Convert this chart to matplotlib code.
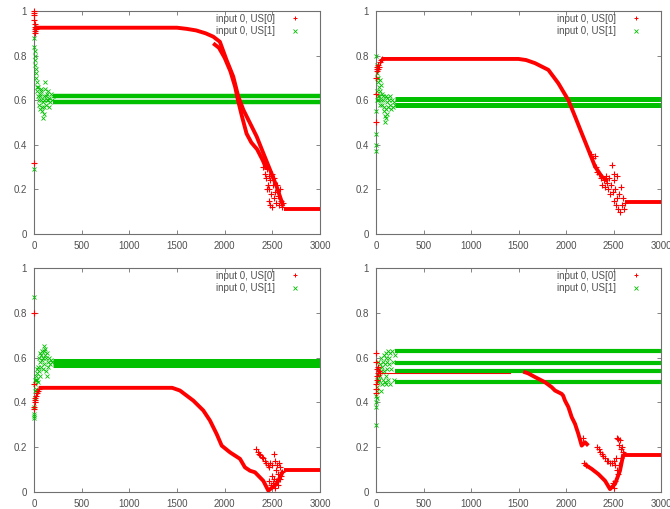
import matplotlib
matplotlib.use("Agg")
import matplotlib.pyplot as plt
from matplotlib.lines import Line2D

plt.rcParams['font.family'] = ['Liberation Sans', 'DejaVu Sans']

RED = '#ff0000'
GREEN = '#00c000'
TEXT = '#505050'
FRAME = '#707070'

x_ticks = [0, 500, 1000, 1500, 2000, 2500, 3000]
y_ticks = [0, 0.2, 0.4, 0.6, 0.8, 1]
y_ticklabels = ['0', '0.2', '0.4', '0.6', '0.8', '1']
legend_labels = ['input 0, US[0]', 'input 0, US[1]']

# ---------------- panel 1 (top left) ----------------
p1_red_early_x = [0, 0, 2, 4, 5, 6, 8, 10, 12, 15, 18, 20]
p1_red_early_y = [0.32, 1.0, 0.98, 0.96, 0.99, 0.94, 0.92, 0.90, 0.91, 0.93, 0.92, 0.925]
p1_red_x = [20, 1500, 1600, 1700, 1800, 1880, 1950, 2020, 2090, 2143, 2196, 2266, 2336, 2405, 2476, 2545, 2615]
p1_red_y = [0.925, 0.925, 0.92, 0.913, 0.9, 0.885, 0.862, 0.78, 0.706, 0.616, 0.557, 0.497, 0.437, 0.363, 0.288, 0.213, 0.124]
p1_red_b_x = [1880, 1940, 2000, 2060, 2110, 2140, 2180, 2230, 2280, 2340, 2400, 2440]
p1_red_b_y = [0.855, 0.835, 0.79, 0.73, 0.66, 0.6, 0.53, 0.45, 0.41, 0.38, 0.33, 0.29]
p1_red_tail_x = [2620, 3000]
p1_red_tail_y = [0.11, 0.11]
p1_red_noise_x = [2400, 2420, 2430, 2440, 2450, 2460, 2470, 2480, 2490, 2500, 2510, 2515, 2520, 2530,
                  2540, 2550, 2560, 2570, 2580, 2590, 2600, 2610, 2480, 2500, 2440, 2460]
p1_red_noise_y = [0.30, 0.27, 0.25, 0.29, 0.22, 0.26, 0.20, 0.24, 0.18, 0.27, 0.22, 0.16, 0.25, 0.19,
                  0.14, 0.22, 0.17, 0.13, 0.20, 0.15, 0.12, 0.14, 0.13, 0.12, 0.20, 0.15]
p1_green_early_x = [0, 0, 5, 8, 10, 12, 15, 18, 20, 25, 28, 30, 35, 40, 45, 50, 55, 60, 65, 70, 75, 80,
                    85, 90, 95, 100, 105, 110, 115, 120, 130, 135, 140, 150, 155, 160, 170, 180, 190,
                    200, 60, 75, 110, 125, 145]
p1_green_early_y = [0.29, 0.88, 0.84, 0.82, 0.80, 0.76, 0.78, 0.74, 0.72, 0.70, 0.66, 0.68, 0.64, 0.62,
                    0.66, 0.60, 0.58, 0.56, 0.62, 0.64, 0.60, 0.57, 0.55, 0.52, 0.59, 0.62, 0.54, 0.60,
                    0.68, 0.65, 0.58, 0.63, 0.60, 0.64, 0.57, 0.61, 0.59, 0.63, 0.60, 0.62, 0.63, 0.65,
                    0.57, 0.62, 0.60]
p1_green_levels = [0.619, 0.590]

# ---------------- panel 2 (top right) ----------------
p2_red_early_x = [0, 0, 5, 8, 10, 15, 20, 25, 30, 40, 50, 60]
p2_red_early_y = [0.50, 0.63, 0.70, 0.74, 0.75, 0.73, 0.74, 0.76, 0.75, 0.77, 0.78, 0.785]
p2_red_x = [60, 1500, 1580, 1674, 1814, 1919, 2025, 2095, 2165, 2235, 2305, 2375, 2440]
p2_red_y = [0.785, 0.785, 0.78, 0.766, 0.736, 0.676, 0.60, 0.527, 0.452, 0.378, 0.303, 0.258, 0.236]
p2_red_tail_x = [2620, 3000]
p2_red_tail_y = [0.145, 0.145]
p2_red_noise_x = [2260, 2280, 2300, 2320, 2330, 2350, 2370, 2380, 2400, 2410, 2420, 2430, 2440, 2450,
                  2460, 2470, 2480, 2490, 2500, 2510, 2520, 2530, 2540, 2550, 2560, 2570, 2580, 2590,
                  2600, 2610, 2620, 2500, 2540]
p2_red_noise_y = [0.36, 0.34, 0.35, 0.30, 0.28, 0.27, 0.25, 0.22, 0.24, 0.21, 0.26, 0.23, 0.20, 0.25,
                  0.18, 0.22, 0.31, 0.19, 0.15, 0.24, 0.20, 0.13, 0.26, 0.11, 0.18, 0.10, 0.21, 0.13,
                  0.16, 0.11, 0.14, 0.27, 0.16]
p2_green_early_x = [0, 0, 0, 3, 5, 6, 8, 10, 12, 15, 18, 20, 25, 30, 35, 40, 45, 50, 55, 60, 65, 70,
                    75, 80, 85, 90, 95, 100, 105, 110, 115, 120, 130, 140, 150, 160, 170, 180, 190,
                    200, 25, 45, 120, 150]
p2_green_early_y = [0.37, 0.40, 0.45, 0.55, 0.80, 0.76, 0.60, 0.72, 0.64, 0.70, 0.62, 0.68, 0.70, 0.66,
                    0.62, 0.69, 0.64, 0.60, 0.67, 0.63, 0.58, 0.62, 0.60, 0.55, 0.57, 0.53, 0.50, 0.52,
                    0.56, 0.62, 0.59, 0.61, 0.57, 0.60, 0.58, 0.56, 0.60, 0.57, 0.59, 0.58, 0.60, 0.58,
                    0.54, 0.62]
p2_green_levels = [0.606, 0.580]

# ---------------- panel 3 (bottom left) ----------------
p3_red_early_x = [0, 0, 2, 5, 8, 10, 15, 20, 30, 40, 50]
p3_red_early_y = [0.80, 0.48, 0.38, 0.37, 0.40, 0.42, 0.41, 0.43, 0.44, 0.45, 0.46]
p3_red_x = [50, 1450, 1531, 1671, 1776, 1846, 1916, 1969, 2056, 2161, 2213, 2266, 2318, 2405, 2458,
            2545, 2615]
p3_red_y = [0.465, 0.465, 0.453, 0.408, 0.364, 0.319, 0.259, 0.207, 0.177, 0.148, 0.11, 0.095, 0.088,
            0.05, 0.006, 0.036, 0.095]
p3_red_tail_x = [2620, 3000]
p3_red_tail_y = [0.098, 0.098]
p3_red_noise_x = [2330, 2345, 2360, 2375, 2390, 2405, 2420, 2435, 2450, 2465, 2480, 2500, 2520, 2530,
                  2540, 2550, 2560, 2570, 2580, 2590, 2600, 2470, 2490, 2500, 2510, 2520, 2530, 2540,
                  2560, 2580]
p3_red_noise_y = [0.19, 0.18, 0.17, 0.165, 0.155, 0.15, 0.14, 0.13, 0.12, 0.11, 0.13, 0.12, 0.17, 0.14,
                  0.10, 0.12, 0.08, 0.13, 0.11, 0.07, 0.09, 0.05, 0.03, 0.07, 0.04, 0.06, 0.02, 0.05,
                  0.03, 0.06]
p3_green_early_x = [0, 0, 0, 3, 5, 8, 10, 12, 15, 20, 25, 30, 35, 40, 45, 50, 55, 60, 65, 70, 75, 80,
                    85, 90, 95, 100, 105, 110, 115, 120, 125, 130, 135, 140, 145, 150, 160, 170, 180,
                    190, 20, 30, 60]
p3_green_early_y = [0.87, 0.35, 0.33, 0.34, 0.38, 0.42, 0.45, 0.50, 0.48, 0.52, 0.50, 0.55, 0.53, 0.49,
                    0.56, 0.60, 0.54, 0.62, 0.58, 0.61, 0.56, 0.63, 0.59, 0.55, 0.60, 0.65, 0.63, 0.57,
                    0.61, 0.64, 0.54, 0.60, 0.62, 0.52, 0.58, 0.56, 0.60, 0.57, 0.59, 0.58, 0.46, 0.50,
                    0.52]
p3_green_levels = [0.577]

# ---------------- panel 4 (bottom right) ----------------
p4_red_early_x = [0, 0, 0, 3, 5, 8, 10, 15, 20, 25, 30, 40]
p4_red_early_y = [0.62, 0.58, 0.46, 0.44, 0.48, 0.50, 0.52, 0.55, 0.53, 0.56, 0.54, 0.53]
p4_red_thin_x = [40, 1410]
p4_red_thin_y = [0.531, 0.531]
p4_red_x = [1550, 1600, 1674, 1779, 1849, 1884, 1954, 1970, 1989, 2025, 2060, 2095, 2130, 2165, 2200,
            2235]
p4_red_y = [0.537, 0.53, 0.513, 0.49, 0.468, 0.453, 0.438, 0.43, 0.408, 0.379, 0.334, 0.304, 0.259,
            0.207, 0.222, 0.207]
p4_red_low_x = [2190, 2270, 2340, 2411, 2463, 2516, 2568, 2604]
p4_red_low_y = [0.125, 0.103, 0.08, 0.05, 0.013, 0.036, 0.095, 0.17]
p4_red_tail_x = [2620, 3000]
p4_red_tail_y = [0.163, 0.163]
p4_red_noise_x = [2180, 2190, 2210, 2330, 2345, 2360, 2375, 2390, 2410, 2430, 2446, 2465, 2480, 2500,
                  2520, 2540, 2551, 2560, 2570, 2580, 2590, 2600, 2610, 2530, 2550, 2520, 2500, 2490,
                  2540, 2560, 2580]
p4_red_noise_y = [0.24, 0.13, 0.12, 0.20, 0.19, 0.18, 0.17, 0.16, 0.15, 0.14, 0.14, 0.13, 0.13, 0.14,
                  0.12, 0.24, 0.237, 0.21, 0.23, 0.19, 0.20, 0.18, 0.17, 0.15, 0.08, 0.05, 0.02, 0.04,
                  0.10, 0.12, 0.15]
p4_green_early_x = [0, 0, 3, 5, 8, 10, 12, 15, 20, 25, 30, 35, 40, 45, 50, 55, 60, 65, 70, 75, 80, 85,
                    90, 95, 100, 105, 110, 115, 120, 125, 130, 135, 140, 145, 150, 160, 170, 180, 190,
                    200, 20, 50, 100]
p4_green_early_y = [0.30, 0.38, 0.40, 0.43, 0.45, 0.42, 0.50, 0.47, 0.52, 0.49, 0.55, 0.50, 0.57, 0.52,
                    0.54, 0.60, 0.48, 0.56, 0.58, 0.50, 0.61, 0.54, 0.57, 0.49, 0.60, 0.52, 0.62, 0.55,
                    0.58, 0.50, 0.63, 0.57, 0.60, 0.48, 0.62, 0.55, 0.63, 0.58, 0.50, 0.61, 0.58, 0.45,
                    0.48]
p4_green_levels = [0.630, 0.577, 0.539, 0.493]

panels = [
    dict(red_early=(p1_red_early_x, p1_red_early_y),
         red_lines=[(p1_red_x, p1_red_y), (p1_red_b_x, p1_red_b_y), (p1_red_tail_x, p1_red_tail_y)],
         red_noise=(p1_red_noise_x, p1_red_noise_y),
         green_early=(p1_green_early_x, p1_green_early_y),
         levels=p1_green_levels, band_lw=3.2),
    dict(red_early=(p2_red_early_x, p2_red_early_y),
         red_lines=[(p2_red_x, p2_red_y), (p2_red_tail_x, p2_red_tail_y)],
         red_noise=(p2_red_noise_x, p2_red_noise_y),
         green_early=(p2_green_early_x, p2_green_early_y),
         levels=p2_green_levels, band_lw=3.6),
    dict(red_early=(p3_red_early_x, p3_red_early_y),
         red_lines=[(p3_red_x, p3_red_y), (p3_red_tail_x, p3_red_tail_y)],
         red_noise=(p3_red_noise_x, p3_red_noise_y),
         green_early=(p3_green_early_x, p3_green_early_y),
         levels=p3_green_levels, band_lw=6.5),
    dict(red_early=(p4_red_early_x, p4_red_early_y),
         red_lines=[(p4_red_x, p4_red_y), (p4_red_low_x, p4_red_low_y), (p4_red_tail_x, p4_red_tail_y)],
         red_noise=(p4_red_noise_x, p4_red_noise_y),
         green_early=(p4_green_early_x, p4_green_early_y),
         levels=p4_green_levels, band_lw=3.0,
         red_thin=(p4_red_thin_x, p4_red_thin_y)),
]

# axes boxes in figure fractions: left, bottom, width, height
boxes = [
    [0.0507, 0.5403, 0.4269, 0.4381],
    [0.5612, 0.5403, 0.4254, 0.4381],
    [0.0507, 0.0334, 0.4269, 0.4401],
    [0.5612, 0.0334, 0.4254, 0.4401],
]

fig = plt.figure(figsize=(6.7, 5.09), dpi=100)

for box, p in zip(boxes, panels):
    ax = fig.add_axes(box)
    # green bands from x=200 on
    for lv in p['levels']:
        ax.plot([200, 3000], [lv, lv], color=GREEN, lw=p['band_lw'], solid_capstyle='butt', zorder=2)
    gx, gy = p['green_early']
    ax.plot(gx, gy, ls='none', marker='x', ms=3.5, mew=0.6, color=GREEN, clip_on=False, zorder=3)
    # red
    for rx, ry in p['red_lines']:
        ax.plot(rx, ry, color=RED, lw=2.8, solid_capstyle='butt', zorder=4)
    if 'red_thin' in p:
        tx, ty = p['red_thin']
        ax.plot(tx, ty, color=RED, lw=0.8, zorder=1)
    ex, ey = p['red_early']
    ax.plot(ex, ey, ls='none', marker='+', ms=4, mew=0.8, color=RED, clip_on=False, zorder=4)
    nx, ny = p['red_noise']
    ax.plot(nx, ny, ls='none', marker='+', ms=4.5, mew=0.8, color=RED, zorder=4)

    ax.set_xlim(0, 3000)
    ax.set_ylim(0, 1)
    ax.set_xticks(x_ticks)
    ax.set_yticks(y_ticks)
    ax.set_yticklabels(y_ticklabels)
    ax.tick_params(direction='in', length=3, width=0.6, color=FRAME, labelsize=7,
                   labelcolor=TEXT, top=True, right=True, pad=5)
    for s in ax.spines.values():
        s.set_color(FRAME)
        s.set_linewidth(0.8)

    handles = [Line2D([], [], ls='none', marker='+', ms=3.5, mew=0.7, color=RED),
               Line2D([], [], ls='none', marker='x', ms=3, mew=0.6, color=GREEN)]
    leg = ax.legend(handles, legend_labels, loc='upper right', frameon=False, fontsize=7,
                    markerfirst=False, handlelength=1.0, handletextpad=1.6,
                    borderaxespad=0.1, labelspacing=0.25, bbox_to_anchor=(0.948, 1.01))
    for t in leg.get_texts():
        t.set_color(TEXT)

fig.savefig('out.png', dpi=100)
